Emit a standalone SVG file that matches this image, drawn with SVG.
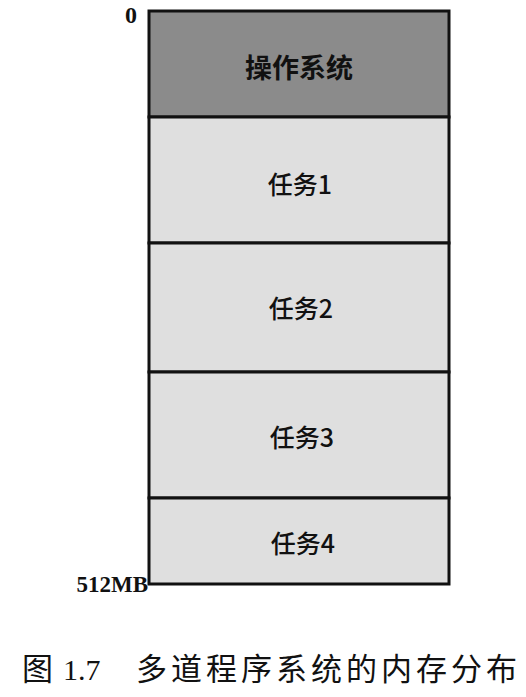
<svg xmlns="http://www.w3.org/2000/svg" width="526" height="697" viewBox="0 0 526 697">
<style>
.blk{stroke:#111;stroke-width:3}
.os{fill:#8b8b8b}
.task{fill:#dfdfdf}
.lbl{font-family:"Noto Sans CJK SC","Liberation Serif",serif;font-size:25px;font-weight:500;fill:#111;text-anchor:middle;dominant-baseline:central}
.osl{font-size:27px;font-weight:bold}
.ser{font-family:"Liberation Serif",serif;font-weight:bold;fill:#111}
.num{font-family:"Liberation Serif",serif;font-weight:normal;fill:#111;font-size:30px}
.cap{font-family:"Noto Sans CJK SC",sans-serif;font-size:31px;fill:#111}
</style>
<rect width="526" height="697" fill="#fff"/>
<g id="os"><rect class="blk os" x="149" y="11" width="300" height="106"/><text class="lbl osl" x="299" y="66">操作系统</text></g>
<g id="task1"><rect class="blk task" x="149" y="117" width="300" height="126"/><text class="lbl" x="300" y="183">任务1</text></g>
<g id="task2"><rect class="blk task" x="149" y="243" width="300" height="129"/><text class="lbl" x="301" y="307">任务2</text></g>
<g id="task3"><rect class="blk task" x="149" y="372" width="300" height="126"/><text class="lbl" x="302" y="436">任务3</text></g>
<g id="task4"><rect class="blk task" x="149" y="498" width="300" height="86"/><text class="lbl" x="303" y="542">任务4</text></g>
<text class="ser" x="137" y="23" font-size="24" text-anchor="end">0</text>
<text class="ser" x="148" y="592" font-size="23" text-anchor="end">512MB</text>
<g id="caption">
<text class="cap" x="22" y="680">图</text>
<text class="num" x="63" y="680">1.7</text>
<text class="cap" x="136" y="680" letter-spacing="4">多道程序系统的内存分布</text>
</g>
</svg>
